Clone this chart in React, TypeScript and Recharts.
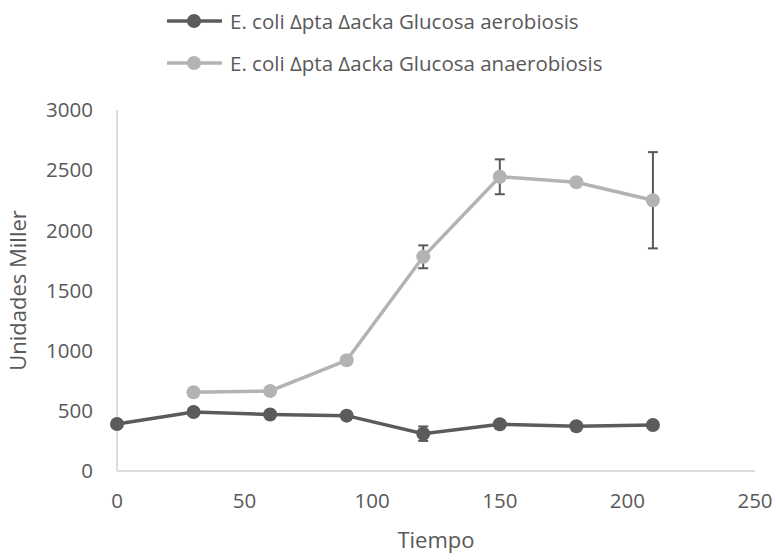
import React from 'react';
import {
  ComposedChart,
  Line,
  XAxis,
  YAxis,
  ErrorBar,
  Legend
} from 'recharts';

// Tiempos de muestreo
const tiemposAerobiosis = [0, 30, 60, 90, 120, 150, 180, 210];
const tiemposAnaerobiosis = [30, 60, 90, 120, 150, 180, 210];

// Unidades Miller y desviaciones
const aerobiosis = [390, 490, 470, 460, 310, 388, 372, 382];
const aerobiosisErr = [0, 15, 0, 0, 60, 0, 0, 0];
const anaerobiosis = [655, 665, 920, 1780, 2445, 2400, 2250];
const anaerobiosisErr = [30, 0, 0, 95, 145, 25, 400];

const xTicks = [0, 50, 100, 150, 200, 250];
const yTicks = [0, 500, 1000, 1500, 2000, 2500, 3000];

const SERIES = [
  { name: 'E. coli Δpta Δacka Glucosa aerobiosis', color: '#5b5b5b' },
  { name: 'E. coli Δpta Δacka Glucosa anaerobiosis', color: '#b3b3b3' }
];

const dataAero = tiemposAerobiosis.map((t, i) => ({ t, v: aerobiosis[i], err: aerobiosisErr[i] }));
const dataAnaero = tiemposAnaerobiosis.map((t, i) => ({ t, v: anaerobiosis[i], err: anaerobiosisErr[i] }));

const FONT = '"Open Sans", sans-serif';
const TEXT = '#595959';

const CustomLegend = () => (
  <div style={{ height: 84, fontFamily: FONT, fontSize: 20.5, color: TEXT }}>
    {SERIES.map((s) => (
      <div key={s.name} style={{ height: 42, display: 'flex', alignItems: 'center', paddingLeft: 167 }}>
        <svg width={55} height={16} style={{ marginRight: 8 }}>
          <line x1={0} y1={8} x2={55} y2={8} stroke={s.color} strokeWidth={3.5} />
          <circle cx={27} cy={8} r={7} fill={s.color} />
        </svg>
        <span>{s.name}</span>
      </div>
    ))}
  </div>
);

export default function App() {
  return (
    <div style={{ position: 'absolute', left: 0, top: 0 }}>
      <ComposedChart width={777} height={560} margin={{ top: 26, right: 22, bottom: 29, left: 0 }}>
        <Legend
          verticalAlign="top"
          align="left"
          content={<CustomLegend />}
          wrapperStyle={{ left: 0, top: 0, width: 777 }}
        />
        <XAxis
          type="number"
          dataKey="t"
          domain={[0, 250]}
          ticks={xTicks}
          allowDuplicatedCategory={false}
          height={60}
          tickLine={false}
          tickSize={0}
          tickMargin={22}
          axisLine={{ stroke: '#d0d0d0', strokeWidth: 1.5 }}
          tick={{ fill: TEXT, fontSize: 20.5, fontFamily: FONT }}
          label={{ value: 'Tiempo', position: 'bottom', offset: 1, fill: TEXT, fontSize: 22, fontFamily: FONT }}
        />
        <YAxis
          type="number"
          domain={[0, 3000]}
          ticks={yTicks}
          width={117}
          tickLine={false}
          tickSize={0}
          tickMargin={24}
          axisLine={{ stroke: '#d0d0d0', strokeWidth: 1.5 }}
          tick={{ fill: TEXT, fontSize: 20.5, fontFamily: FONT }}
          label={{
            value: 'Unidades Miller',
            angle: -90,
            position: 'insideLeft',
            offset: 18,
            fill: TEXT,
            fontSize: 22,
            fontFamily: FONT,
            style: { textAnchor: 'middle' }
          }}
        />
        <Line
          data={dataAero}
          dataKey="v"
          name={SERIES[0].name}
          stroke={SERIES[0].color}
          strokeWidth={3.5}
          dot={{ r: 7, fill: SERIES[0].color, stroke: SERIES[0].color, strokeWidth: 0 }}
          activeDot={false}
          isAnimationActive={false}
        >
          <ErrorBar dataKey="err" width={5} stroke="#595959" strokeWidth={2} direction="y" />
        </Line>
        <Line
          data={dataAnaero}
          dataKey="v"
          name={SERIES[1].name}
          stroke={SERIES[1].color}
          strokeWidth={3.5}
          dot={{ r: 7, fill: SERIES[1].color, stroke: SERIES[1].color, strokeWidth: 0 }}
          activeDot={false}
          isAnimationActive={false}
        >
          <ErrorBar dataKey="err" width={5} stroke="#595959" strokeWidth={2} direction="y" />
        </Line>
      </ComposedChart>
    </div>
  );
}
